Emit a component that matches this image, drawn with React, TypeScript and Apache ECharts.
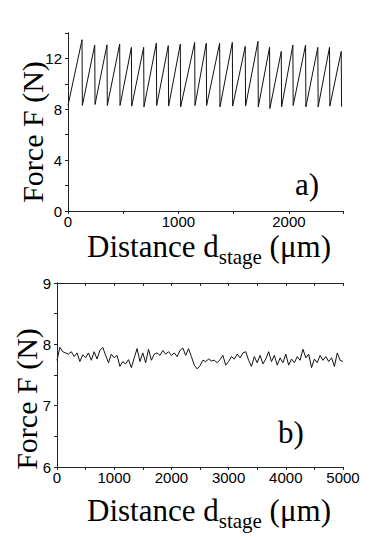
import React, { useEffect, useRef } from "react";
import * as echarts from "echarts";

// Panel a) sawtooth: peak positions (μm), peak forces and following trough forces (N)
const startPoint = [0, 8.3];
const peakX = [127, 242, 353, 468, 574, 685, 800, 908, 1017, 1147, 1252, 1373, 1488, 1605, 1720, 1825, 1931, 2036, 2151, 2262, 2368, 2474];
const peakY = [13.47, 13.05, 13.07, 13.13, 12.87, 12.87, 13.2, 13.0, 13.13, 13.26, 13.2, 13.2, 13.26, 12.95, 13.34, 12.87, 12.55, 13.05, 13.05, 12.87, 12.87, 12.55];
const troughY = [8.3, 8.38, 8.3, 8.3, 8.25, 8.19, 8.3, 8.25, 8.19, 8.3, 8.3, 8.19, 8.25, 8.25, 8.19, 8.06, 8.19, 8.3, 8.19, 8.19, 8.25, 8.2];

// Panel b) force trace, sampled every 50 μm from 0 to 5000
const stepB = 50;
const forceB = [
  7.74, 7.95, 7.88, 7.86, 7.84, 7.88, 7.80, 7.86, 7.72, 7.83,
  7.78, 7.86, 7.74, 7.88, 7.76, 7.90, 7.95, 7.82, 7.70, 7.84,
  7.78, 7.82, 7.64, 7.72, 7.68, 7.75, 7.62, 7.78, 7.93, 7.72,
  7.86, 7.70, 7.92, 7.74, 7.84, 7.86, 7.82, 7.90, 7.84, 7.88,
  7.82, 7.86, 7.80, 7.90, 7.94, 7.82, 7.93, 7.80, 7.66, 7.60,
  7.65, 7.74, 7.72, 7.76, 7.73, 7.74, 7.70, 7.75, 7.82, 7.66,
  7.72, 7.80, 7.76, 7.84, 7.78, 7.86, 7.88, 7.74, 7.64, 7.80,
  7.70, 7.82, 7.68, 7.76, 7.88, 7.72, 7.82, 7.66, 7.78, 7.70,
  7.84, 7.66, 7.76, 7.70, 7.80, 7.74, 7.92, 7.78, 7.84, 7.62,
  7.76, 7.70, 7.82, 7.74, 7.80, 7.72, 7.78, 7.64, 7.86, 7.74,
  7.72,
];

const xTicksA = { min: 0, max: 2490, interval: 500, labelEvery: 1000 };
const yTicksA = { min: 0, max: 14, interval: 2, labelEvery: 4 };
const xTicksB = { min: 0, max: 5000, interval: 500, labelEvery: 1000 };
const yTicksB = { min: 6, max: 9, interval: 0.5, labelEvery: 1 };

const yTitle = "Force F (N)";
const xTitleParts = ["Distance d", "stage", " (μm)"];
const panelLabels = ["a)", "b)"];

const AXIS_COLOR = "#222";
const SANS = "'Liberation Sans', Arial, sans-serif";
const SERIF = "'Liberation Serif', 'Times New Roman', serif";
const MAIN_SIZE = 31;
const SUB_SIZE = 21;

function measure(text: string, size: number) {
  const c = document.createElement("canvas").getContext("2d");
  if (!c) return text.length * size * 0.5;
  c.font = `${size}px ${SERIF}`;
  return c.measureText(text).width;
}

function mainAxis(idx: number, pos: string, t: any, isX: boolean) {
  return {
    type: "value",
    gridIndex: idx,
    position: pos,
    min: t.min,
    max: t.max,
    interval: t.interval,
    axisLine: { show: true, lineStyle: { color: AXIS_COLOR, width: 1 } },
    axisTick: { show: true, inside: false, length: 3, lineStyle: { color: AXIS_COLOR } },
    splitLine: { show: false },
    axisLabel: {
      show: true,
      color: "#000",
      fontFamily: SANS,
      fontSize: 15,
      lineHeight: 15,
      margin: isX ? 3 : 6,
      showMaxLabel: true,
      formatter: (v: number) => {
        const r = (v - t.min) / t.labelEvery;
        return Math.abs(r - Math.round(r)) < 1e-6 && v <= t.max ? String(v) : "";
      },
    },
  };
}

function mirrorAxis(idx: number, pos: string, t: any) {
  return {
    type: "value",
    gridIndex: idx,
    position: pos,
    min: t.min,
    max: t.max,
    interval: t.interval,
    axisLine: { show: true, lineStyle: { color: AXIS_COLOR, width: 1 } },
    axisTick: { show: true, inside: true, length: 3, lineStyle: { color: AXIS_COLOR } },
    splitLine: { show: false },
    axisLabel: { show: false },
  };
}

// x title: main text + lowered subscript, laid out from measured widths; y = main baseline
function xTitle(cx: number, baseline: number) {
  const w0 = measure(xTitleParts[0], MAIN_SIZE);
  const w1 = measure(xTitleParts[1], SUB_SIZE);
  const w2 = measure(xTitleParts[2], MAIN_SIZE);
  const x0 = cx - (w0 + w1 + w2) / 2;
  const part = (text: string, x: number, y: number, size: number) => ({
    type: "text",
    x,
    y,
    silent: true,
    style: {
      text,
      fontFamily: SERIF,
      fontSize: size,
      align: "left",
      verticalAlign: "bottom",
      fill: "#000",
    },
  });
  return [
    part(xTitleParts[0], x0, baseline + MAIN_SIZE * 0.22, MAIN_SIZE),
    part(xTitleParts[1], x0 + w0, baseline + 8 + SUB_SIZE * 0.22, SUB_SIZE),
    part(xTitleParts[2], x0 + w0 + w1, baseline + MAIN_SIZE * 0.22, MAIN_SIZE),
  ];
}

function yTitleEl(x: number, y: number) {
  return {
    type: "text",
    x,
    y,
    rotation: Math.PI / 2,
    silent: true,
    style: {
      text: yTitle,
      fontFamily: SERIF,
      fontSize: 30,
      align: "center",
      verticalAlign: "middle",
      fill: "#000",
    },
  };
}

function panelLabel(text: string, x: number, y: number) {
  return {
    type: "text",
    x,
    y,
    silent: true,
    style: {
      text,
      fontFamily: SERIF,
      fontSize: 31,
      align: "center",
      verticalAlign: "middle",
      fill: "#000",
    },
  };
}

export default function App() {
  const ref = useRef<HTMLDivElement>(null);
  useEffect(() => {
    if (!ref.current) return;
    const chart = echarts.init(ref.current, null, { renderer: "svg" });

    const dataA: number[][] = [startPoint];
    for (let i = 0; i < peakX.length; i++) {
      dataA.push([peakX[i], peakY[i]]);
      dataA.push([peakX[i] + 3, troughY[i]]);
    }
    const dataB = forceB.map((v, i) => [i * stepB, v]);

    chart.setOption({
      animation: false,
      backgroundColor: "#fff",
      grid: [
        { left: 68, top: 33, width: 275, height: 178 },
        { left: 57, top: 283, width: 286, height: 184 },
      ],
      xAxis: [
        mainAxis(0, "bottom", xTicksA, true),
        mirrorAxis(0, "top", xTicksA),
        mainAxis(1, "bottom", xTicksB, true),
        mirrorAxis(1, "top", xTicksB),
      ],
      yAxis: [
        mainAxis(0, "left", yTicksA, false),
        mirrorAxis(0, "right", yTicksA),
        mainAxis(1, "left", yTicksB, false),
        mirrorAxis(1, "right", yTicksB),
      ],
      series: [
        {
          type: "line",
          xAxisIndex: 0,
          yAxisIndex: 0,
          data: dataA,
          showSymbol: false,
          symbol: "none",
          lineStyle: { color: "#111", width: 1 },
        },
        {
          type: "line",
          xAxisIndex: 2,
          yAxisIndex: 2,
          data: dataB,
          showSymbol: false,
          symbol: "none",
          lineStyle: { color: "#111", width: 1 },
        },
      ],
      graphic: [
        yTitleEl(32, 132),
        yTitleEl(26, 399),
        ...xTitle(209, 255),
        ...xTitle(209, 519),
        panelLabel(panelLabels[0], 307, 184),
        panelLabel(panelLabels[1], 291, 432),
      ],
    });
    return () => chart.dispose();
  }, []);
  return <div ref={ref} style={{ width: 382, height: 540, position: "absolute", left: 0, top: 0 }} />;
}
